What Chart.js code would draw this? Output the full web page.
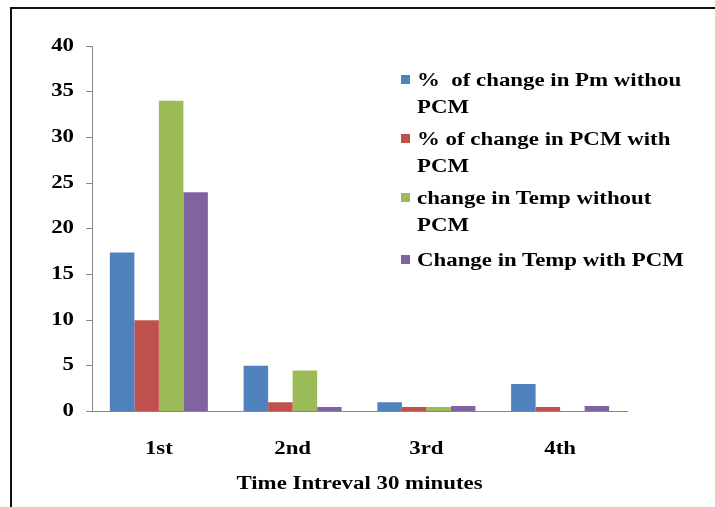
<!DOCTYPE html>
<html>
<head>
<meta charset="utf-8">
<script src="https://cdn.jsdelivr.net/npm/chart.js@4.4.1/dist/chart.umd.min.js"></script>
<style>
  html, body { margin: 0; padding: 0; background: #fff; overflow: hidden; }
  #wrap { position: relative; width: 715px; height: 507px; }
  #frame {
    position: absolute; left: 10px; top: 7px; width: 800px; height: 600px;
    border-left: 2px solid #111; border-top: 2px solid #111;
  }
  #legend {
    position: absolute; left: 401px; top: 67px;
    font: bold 18px "Liberation Serif", "Times New Roman", serif; color: #000;
  }
  .item { display: flex; align-items: flex-start; margin-bottom: 5px; }
  .item:nth-child(3) { margin-bottom: 8px; }
  .sw { width: 9px; height: 9px; margin-top: 8px; margin-right: 7px; flex: none; }
  .txt {
    display: inline-block; width: 217px; line-height: 27px; white-space: pre-wrap;
    transform: scaleX(1.27); transform-origin: left top;
  }
</style>
</head>
<body>
<div id="wrap">
  <canvas id="c" width="715" height="507"></canvas>
  <div id="frame"></div>
  <div id="legend"></div>
</div>
<script>
var categories = ['1st', '2nd', '3rd', '4th'];
var seriesNames = [
  '%  of change in Pm withou PCM',
  '% of change in PCM with PCM',
  'change in Temp without PCM',
  'Change in Temp with PCM'
];
var pmWithout = [17.4, 5, 1, 3];
var pcmWith = [10, 1, 0.5, 0.5];
var tempWithout = [34, 4.5, 0.5, 0];
var tempWith = [24, 0.5, 0.6, 0.6];
var colors = ['#4F81BD', '#C0504D', '#9BBB59', '#8064A2'];
var xTitle = 'Time Intreval 30 minutes';

var fontSpec = { family: '"Liberation Serif", "Times New Roman", serif', size: 18, weight: 'bold' };
var axisGray = '#868686';
var stretch = 1.27; // original text is drawn a bit wide

var values = [pmWithout, pcmWith, tempWithout, tempWith];
var datasets = values.map(function(v, i) {
  return {
    label: seriesNames[i],
    data: v,
    backgroundColor: colors[i],
    borderWidth: 0,
    categoryPercentage: 0.733,
    barPercentage: 1
  };
});

// widen canvas text around its anchor point
var wideText = {
  id: 'wideText',
  beforeDraw: function(chart) {
    var ctx = chart.ctx;
    if (ctx._wide) return;
    var orig = ctx.fillText;
    ctx.fillText = function(t, x, y, w) {
      this.save();
      this.translate(x, y);
      this.scale(stretch, 1);
      orig.call(this, t, 0, 0);
      this.restore();
    };
    ctx._wide = true;
  }
};

new Chart(document.getElementById('c'), {
  type: 'bar',
  data: { labels: categories, datasets: datasets },
  plugins: [wideText],
  options: {
    responsive: false,
    animation: false,
    layout: { padding: { left: 0, right: 88, top: 46, bottom: 0 } },
    plugins: { legend: { display: false }, tooltip: { enabled: false } },
    scales: {
      x: {
        grid: { display: false },
        border: { display: true, color: axisGray, width: 1 },
        ticks: { color: '#000', font: fontSpec, padding: 19 },
        title: { display: true, text: xTitle, color: '#000', font: fontSpec, padding: { top: 4, bottom: 12 } },
        afterFit: function(s) { s.height = 95.5; }
      },
      y: {
        min: 0, max: 40,
        grid: { drawOnChartArea: false, drawTicks: true, tickLength: 6, color: axisGray },
        border: { display: true, color: axisGray, width: 1 },
        ticks: { stepSize: 5, color: '#000', font: fontSpec, padding: 12 },
        afterFit: function(s) { s.width = 92; }
      }
    }
  }
});

// legend drawn as html so it can sit over the plot like the original
var lg = document.getElementById('legend');
seriesNames.forEach(function(name, i) {
  var row = document.createElement('div');
  row.className = 'item';
  var sw = document.createElement('span');
  sw.className = 'sw';
  sw.style.background = colors[i];
  var t = document.createElement('span');
  t.className = 'txt';
  t.textContent = name;
  row.appendChild(sw);
  row.appendChild(t);
  lg.appendChild(row);
});
</script>
</body>
</html>
